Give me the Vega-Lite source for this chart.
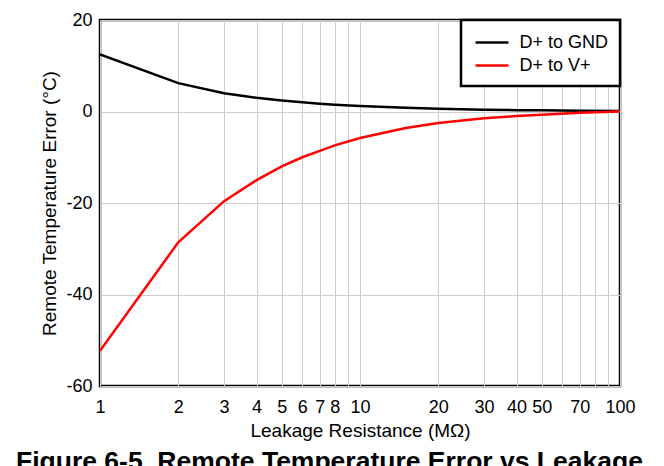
{
  "$schema": "https://vega.github.io/schema/vega-lite/v6.json",
  "width": 520,
  "height": 366,
  "autosize": {"type": "none"},
  "padding": {"left": 100, "top": 20, "right": 44, "bottom": 80},
  "background": "white",
  "title": {
    "text": "Figure 6-5. Remote Temperature Error vs Leakage",
    "orient": "bottom",
    "anchor": "start",
    "frame": "group",
    "dx": -84,
    "offset": 9,
    "font": "Liberation Sans",
    "fontSize": 26.5,
    "fontWeight": "bold",
    "color": "black"
  },
  "config": {
    "font": "Liberation Sans",
    "view": {"stroke": "black", "strokeWidth": 2.5},
    "axis": {
      "labelFont": "Liberation Sans",
      "titleFont": "Liberation Sans",
      "labelColor": "black",
      "titleColor": "black",
      "labelFontSize": 18,
      "titleFontSize": 19,
      "titleFontWeight": "normal",
      "gridColor": "#cccccc",
      "gridWidth": 1,
      "domain": false,
      "ticks": false
    }
  },
  "data": {
    "values": [
      {"r": 1, "err": 12.5, "s": "D+ to GND"},
      {"r": 2, "err": 6.2, "s": "D+ to GND"},
      {"r": 3, "err": 4.0, "s": "D+ to GND"},
      {"r": 4, "err": 3.0, "s": "D+ to GND"},
      {"r": 5, "err": 2.4, "s": "D+ to GND"},
      {"r": 6, "err": 2.0, "s": "D+ to GND"},
      {"r": 7, "err": 1.7, "s": "D+ to GND"},
      {"r": 8, "err": 1.5, "s": "D+ to GND"},
      {"r": 10, "err": 1.2, "s": "D+ to GND"},
      {"r": 15, "err": 0.8, "s": "D+ to GND"},
      {"r": 20, "err": 0.6, "s": "D+ to GND"},
      {"r": 30, "err": 0.4, "s": "D+ to GND"},
      {"r": 40, "err": 0.3, "s": "D+ to GND"},
      {"r": 50, "err": 0.25, "s": "D+ to GND"},
      {"r": 70, "err": 0.15, "s": "D+ to GND"},
      {"r": 100, "err": 0.1, "s": "D+ to GND"},
      {"r": 1, "err": -52.3, "s": "D+ to V+"},
      {"r": 2, "err": -28.6, "s": "D+ to V+"},
      {"r": 3, "err": -19.6, "s": "D+ to V+"},
      {"r": 4, "err": -15.0, "s": "D+ to V+"},
      {"r": 5, "err": -12.0, "s": "D+ to V+"},
      {"r": 6, "err": -10.0, "s": "D+ to V+"},
      {"r": 7, "err": -8.6, "s": "D+ to V+"},
      {"r": 8, "err": -7.4, "s": "D+ to V+"},
      {"r": 10, "err": -5.8, "s": "D+ to V+"},
      {"r": 15, "err": -3.6, "s": "D+ to V+"},
      {"r": 20, "err": -2.5, "s": "D+ to V+"},
      {"r": 30, "err": -1.5, "s": "D+ to V+"},
      {"r": 40, "err": -1.0, "s": "D+ to V+"},
      {"r": 50, "err": -0.7, "s": "D+ to V+"},
      {"r": 70, "err": -0.3, "s": "D+ to V+"},
      {"r": 100, "err": 0, "s": "D+ to V+"}
    ]
  },
  "mark": {"type": "line", "strokeWidth": 2.5, "clip": true},
  "encoding": {
    "x": {
      "field": "r",
      "type": "quantitative",
      "scale": {"type": "log", "domain": [1, 100], "nice": false},
      "axis": {
        "title": "Leakage Resistance (MΩ)",
        "values": [1, 2, 3, 4, 5, 6, 7, 8, 9, 10, 20, 30, 40, 50, 60, 70, 80, 90, 100],
        "labelExpr": "indexof([9,60,80,90], datum.value) >= 0 ? '' : datum.value",
        "labelPadding": 12,
        "labelFlush": false,
        "labelOverlap": false,
        "titlePadding": 5
      }
    },
    "y": {
      "field": "err",
      "type": "quantitative",
      "scale": {"domain": [-60, 20], "nice": false},
      "axis": {
        "title": "Remote Temperature Error (°C)",
        "values": [-60, -40, -20, 0, 20],
        "labelExpr": "replace(datum.label, '−', '-')",
        "labelPadding": 8,
        "titlePadding": 6
      }
    },
    "color": {
      "field": "s",
      "type": "nominal",
      "scale": {"domain": ["D+ to GND", "D+ to V+"], "range": ["black", "#ff0000"]},
      "legend": {
        "title": null,
        "orient": "top-right",
        "offset": 0,
        "strokeColor": "black",
        "fillColor": "white",
        "padding": 11,
        "symbolType": "M-1.65,0H1.65",
        "symbolSize": 400,
        "symbolOffset": 8.5,
        "symbolStrokeWidth": 2.5,
        "labelFont": "Liberation Sans",
        "labelFontSize": 18,
        "labelColor": "black",
        "rowPadding": 2,
        "labelOffset": 16,
        "encode": {
          "legend": {"update": {"strokeWidth": {"value": 2.5}}}
        }
      }
    }
  }
}
